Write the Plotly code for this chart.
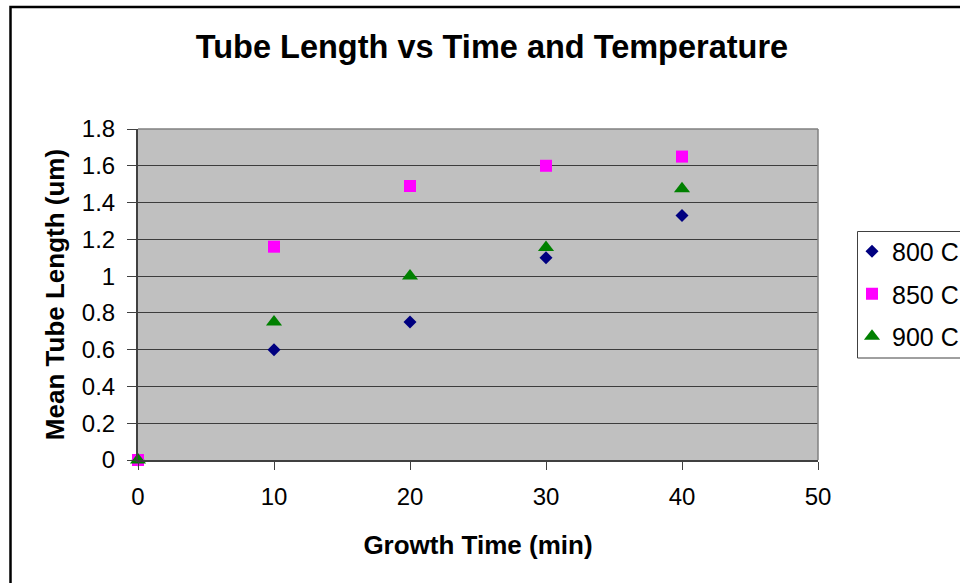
import plotly.graph_objects as go

time_min = [0, 10, 20, 30, 40]
len_800 = [0, 0.60, 0.75, 1.10, 1.33]
len_850 = [0, 1.16, 1.49, 1.60, 1.65]
len_900 = [0, 0.75, 1.00, 1.155, 1.475]
series_names = ["800 C", "850 C", "900 C"]

FONT = "Liberation Sans, Arial, sans-serif"

fig = go.Figure()
fig.add_trace(go.Scatter(x=time_min, y=len_800, mode="markers", name=series_names[0],
                         legendgroup="g0",
                         marker=dict(symbol="diamond", size=10, color="#000080"),
                         cliponaxis=False))
fig.add_trace(go.Scatter(x=time_min, y=len_850, mode="markers", name=series_names[1],
                         legendgroup="g1",
                         marker=dict(symbol="square", size=12, color="#FF00FF"),
                         cliponaxis=False))
fig.add_trace(go.Scatter(x=time_min, y=len_900, mode="markers", name=series_names[2],
                         legendgroup="g2",
                         marker=dict(symbol="triangle-up", size=14, color="#008000"),
                         cliponaxis=False))

L, R, T, B = 138, 142, 129, 123
W, H = 960, 583
pw, ph = W - L - R, H - T - B

def px_x(p):
    return (p - L) / pw

def px_y(p):
    return (H - B - p) / ph

fig.update_layout(
    width=W, height=H,
    margin=dict(l=L, r=R, t=T, b=B, autoexpand=False),
    paper_bgcolor="white",
    plot_bgcolor="#C0C0C0",
    font=dict(family=FONT, size=24, color="black"),
    title=dict(text="<b>Tube Length vs Time and Temperature</b>",
               font=dict(family=FONT, size=32.5, color="black"),
               x=492 / W, xref="container", xanchor="center",
               y=1 - 47 / H, yref="container", yanchor="middle"),
    xaxis=dict(range=[0, 50], dtick=10, tick0=0, showgrid=False, zeroline=False,
               showline=True, linecolor="#404040", linewidth=2,
               ticks="outside", ticklen=8, tickcolor="#404040", tickwidth=1,
               ticklabelstandoff=6,
               tickfont=dict(family=FONT, size=24),
               title=dict(text="<b>Growth Time (min)</b>", standoff=27,
                          font=dict(family=FONT, size=26))),
    yaxis=dict(range=[0, 1.8], dtick=0.2, tick0=0, showgrid=True,
               gridcolor="#3c3c3c", gridwidth=1.3, zeroline=False,
               showline=True, linecolor="#404040", linewidth=2,
               ticks="outside", ticklen=9, tickcolor="#404040", tickwidth=1,
               ticklabelstandoff=7,
               tickfont=dict(family=FONT, size=24),
               title=dict(text="<b>Mean Tube Length (um)</b>", standoff=10,
                          font=dict(family=FONT, size=26))),
    legend=dict(x=px_x(852), xanchor="left", y=px_y(228.5), yanchor="top",
                bgcolor="rgba(0,0,0,0)", borderwidth=0,
                font=dict(family=FONT, size=25, color="black"),
                traceorder="grouped", tracegroupgap=7, itemwidth=30),
    showlegend=True,
    shapes=[
        dict(type="line", xref="paper", yref="paper", x0=0, x1=1, y0=1, y1=1,
             line=dict(color="#808080", width=1.5), layer="above"),
        dict(type="line", xref="paper", yref="paper", x0=1, x1=1, y0=0, y1=1,
             line=dict(color="#808080", width=1.5), layer="above"),
        dict(type="rect", xref="paper", yref="paper",
             x0=px_x(857.5), x1=px_x(1010), y0=px_y(231.5), y1=px_y(358),
             line=dict(color="#404040", width=1), fillcolor="white", layer="below"),
        dict(type="rect", xref="paper", yref="paper",
             x0=px_x(10.5), x1=px_x(1010), y0=px_y(7), y1=px_y(620),
             line=dict(color="black", width=2.5), fillcolor="rgba(0,0,0,0)", layer="above"),
    ],
)

fig.write_html("out.html")
